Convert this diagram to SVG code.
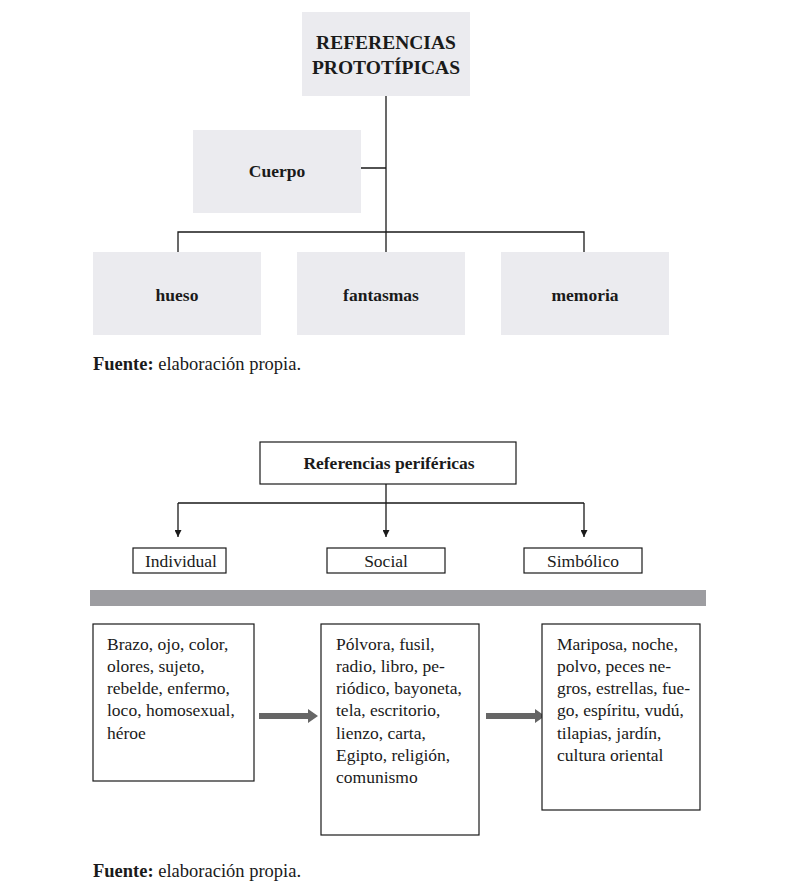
<svg xmlns="http://www.w3.org/2000/svg" width="791" height="889" viewBox="0 0 791 889">
<style>
text{font-family:"Liberation Serif","Times New Roman",serif;fill:#1a1a1a}
.b{font-weight:bold}
.g{fill:#ebebef}
.bx{fill:#fff;stroke:#1a1a1a;stroke-width:1.2}
.ln{stroke:#1a1a1a;stroke-width:1.3;fill:none}
.t16{font-size:17.5px}
.c{text-anchor:middle}
.f{font-size:18.5px}
</style>
<defs>
<marker id="ah" viewBox="0 0 10 10" refX="10" refY="5" markerWidth="7" markerHeight="7" markerUnits="userSpaceOnUse" orient="auto"><path d="M0,0 L10,5 L0,10 z" fill="#1a1a1a"/></marker>
</defs>
<g id="connectors">
<path class="ln" d="M386,96 V252 M361,168 H386 M178,252 V232 H584 V252"/>
<path class="ln" d="M386,484 V503 M178,503 H584"/>
<path class="ln" d="M178,503 V537" marker-end="url(#ah)"/>
<path class="ln" d="M386,503 V537" marker-end="url(#ah)"/>
<path class="ln" d="M584,503 V537" marker-end="url(#ah)"/>
<path d="M259,713 H308 V709 L318,716 L308,723 V719 H259 z" fill="#666"/>
<path d="M486,713 H535 V709 L545,716 L535,723 V719 H486 z" fill="#666"/>
</g>
<g id="n-top"><rect class="g" x="302" y="12" width="168" height="84"/>
<text class="b c" x="386" y="49" font-size="19.5">REFERENCIAS</text>
<text class="b c" x="386" y="74" font-size="19.5">PROTOTÍPICAS</text></g>
<g id="n-cuerpo"><rect class="g" x="193" y="130" width="168" height="83"/><text class="b c t16" x="277" y="177">Cuerpo</text></g>
<g id="n-hueso"><rect class="g" x="93" y="252" width="168" height="83"/><text class="b c t16" x="177" y="301">hueso</text></g>
<g id="n-fantasmas"><rect class="g" x="297" y="252" width="168" height="83"/><text class="b c t16" x="381" y="301">fantasmas</text></g>
<g id="n-memoria"><rect class="g" x="501" y="252" width="168" height="83"/><text class="b c t16" x="585" y="301">memoria</text></g>
<g id="fuente1"><text class="f" x="93" y="370"><tspan class="b">Fuente:</tspan> elaboración propia.</text></g>
<g id="n-perif"><rect class="bx" x="260" y="442" width="256" height="42"/><text class="b c t16" x="389" y="469">Referencias periféricas</text></g>
<g id="n-ind"><rect class="bx" x="133" y="548" width="93" height="25"/><text class="c t16" x="181" y="567">Individual</text></g>
<g id="n-soc"><rect class="bx" x="327" y="548" width="118" height="25"/><text class="c t16" x="386" y="567">Social</text></g>
<g id="n-sim"><rect class="bx" x="524" y="548" width="118" height="25"/><text class="c t16" x="583" y="567">Simbólico</text></g>
<rect id="bar" x="90" y="590" width="616" height="16" fill="#9d9da1"/>
<g id="n-b1"><rect class="bx" x="93" y="624" width="161" height="157"/>
<text class="t16" x="107"><tspan x="107" y="650">Brazo, ojo, color,</tspan><tspan x="107" y="672">olores, sujeto,</tspan><tspan x="107" y="694">rebelde, enfermo,</tspan><tspan x="107" y="716">loco, homosexual,</tspan><tspan x="107" y="739">héroe</tspan></text></g>
<g id="n-b2"><rect class="bx" x="321" y="624" width="158" height="211"/>
<text class="t16"><tspan x="336" y="650">Pólvora, fusil,</tspan><tspan x="336" y="672">radio, libro, pe-</tspan><tspan x="336" y="694">riódico, bayoneta,</tspan><tspan x="336" y="716">tela, escritorio,</tspan><tspan x="336" y="739">lienzo, carta,</tspan><tspan x="336" y="761">Egipto, religión,</tspan><tspan x="336" y="783">comunismo</tspan></text></g>
<g id="n-b3"><rect class="bx" x="542" y="624" width="158" height="186"/>
<text class="t16"><tspan x="557" y="650">Mariposa, noche,</tspan><tspan x="557" y="672">polvo, peces ne-</tspan><tspan x="557" y="694">gros, estrellas, fue-</tspan><tspan x="557" y="716">go, espíritu, vudú,</tspan><tspan x="557" y="739">tilapias, jardín,</tspan><tspan x="557" y="761">cultura oriental</tspan></text></g>
<g id="fuente2"><text class="f" x="93" y="877"><tspan class="b">Fuente:</tspan> elaboración propia.</text></g>
</svg>
